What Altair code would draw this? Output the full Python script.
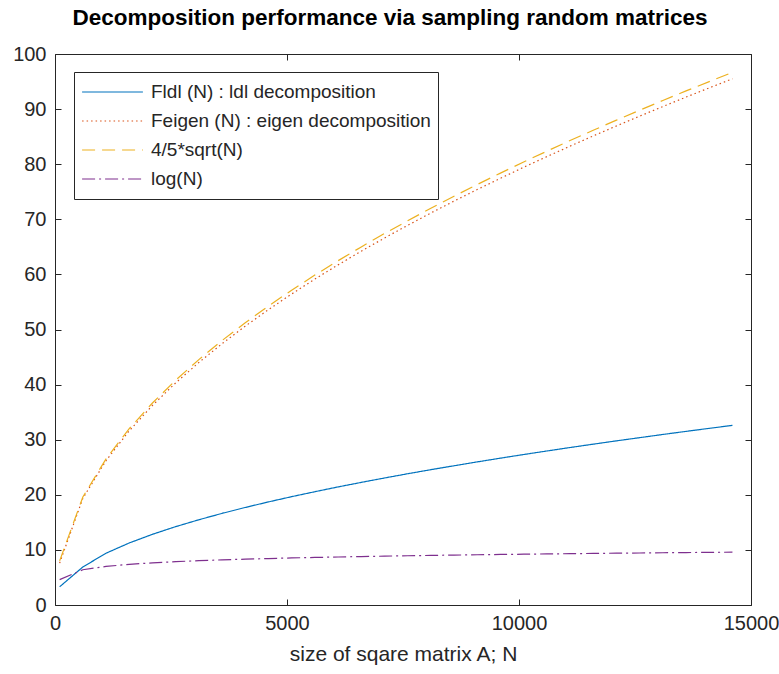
import altair as alt
import pandas as pd

# Matrix sizes N (sampled every 500)
N = [100, 600, 1100, 1600, 2100, 2600, 3100, 3600, 4100, 4600,
     5100, 5600, 6100, 6600, 7100, 7600, 8100, 8600, 9100, 9600,
     10100, 10600, 11100, 11600, 12100, 12600, 13100, 13600, 14100, 14600]

F_ldl = [3.3, 6.9, 9.4, 11.26, 12.83, 14.22, 15.47, 16.63, 17.70, 18.71,
         19.66, 20.56, 21.43, 22.25, 23.05, 23.82, 24.56, 25.27, 25.97, 26.65,
         27.31, 27.95, 28.58, 29.19, 29.79, 30.37, 30.95, 31.51, 32.06, 32.6]

F_eigen = [7.6, 19.36, 26.21, 31.62, 36.22, 40.30, 44.01, 47.42, 50.61, 53.61,
           56.44, 59.15, 61.73, 64.21, 66.60, 68.90, 71.14, 73.30, 75.40, 77.44,
           79.44, 81.37, 83.28, 85.13, 86.94, 88.72, 90.46, 92.18, 93.85, 95.50]

sqrt_curve = [8.0, 19.60, 26.53, 32.0, 36.66, 40.79, 44.54, 48.0, 51.22, 54.26,
              57.13, 59.87, 62.48, 64.99, 67.41, 69.74, 72.0, 74.19, 76.32, 78.38,
              80.40, 82.36, 84.29, 86.16, 88.0, 89.80, 91.56, 93.30, 94.99, 96.66]

log_curve = [4.605, 6.397, 7.003, 7.378, 7.650, 7.863, 8.039, 8.189, 8.319, 8.434,
             8.537, 8.631, 8.716, 8.795, 8.868, 8.936, 9.000, 9.059, 9.116, 9.170,
             9.220, 9.269, 9.315, 9.359, 9.401, 9.441, 9.480, 9.518, 9.554, 9.589]

series_names = ["Fldl (N) : ldl decomposition",
                "Feigen (N) : eigen decomposition",
                "4/5*sqrt(N)",
                "log(N)"]
series_values = [F_ldl, F_eigen, sqrt_curve, log_curve]
series_colors = ["#0072BD", "#D95319", "#EDB120", "#7E2F8E"]
series_dashes = [[1, 0], [1.5, 3], [13, 7], [13, 4, 2, 4]]

x_ticks = [0, 5000, 10000, 15000]
y_ticks = [0, 10, 20, 30, 40, 50, 60, 70, 80, 90, 100]

rows = []
for name, vals in zip(series_names, series_values):
    for n, v in zip(N, vals):
        rows.append({"N": n, "value": v, "series": name})
df = pd.DataFrame(rows)

FONT = "Liberation Sans"
TXT = "#262626"

x_main = alt.X("N:Q",
               scale=alt.Scale(domain=[0, 15000], nice=False),
               axis=alt.Axis(values=x_ticks, title="size of sqare matrix A; N",
                             offset=-6, tickSize=6, domain=False, grid=False,
                             labelPadding=8, labelFontSize=20, labelColor=TXT,
                             tickColor=TXT, titleFontSize=21, titleFontWeight="normal",
                             titleColor=TXT, titlePadding=10, labelFont=FONT, titleFont=FONT,
                             format="d", labelFlush=False))
y_main = alt.Y("value:Q",
               scale=alt.Scale(domain=[0, 100], nice=False),
               axis=alt.Axis(values=y_ticks, title=None,
                             offset=-6, tickSize=6, domain=False, grid=False,
                             labelPadding=9, labelFontSize=20, labelColor=TXT,
                             tickColor=TXT, labelFont=FONT, labelFlush=False))

color = alt.Color("series:N",
                  scale=alt.Scale(domain=series_names, range=series_colors),
                  sort=series_names,
                  legend=alt.Legend(title=None, orient="none", legendX=19, legendY=18,
                                    symbolType="stroke", symbolSize=3700,
                                    symbolStrokeWidth=1.2, labelFontSize=19,
                                    labelFont=FONT, labelColor=TXT,
                                    strokeColor="#262626", fillColor="white",
                                    padding=7, rowPadding=3, labelOffset=7,
                                    clipHeight=26, labelLimit=500))
dash = alt.StrokeDash("series:N",
                      scale=alt.Scale(domain=series_names, range=series_dashes),
                      sort=series_names, legend=None)

lines = alt.Chart(df).mark_line(strokeWidth=1.2).encode(
    x=x_main, y=y_main, color=color, strokeDash=dash, detail="series:N"
)

ticks_other = alt.Chart(df).mark_line(opacity=0).encode(
    x=alt.X("N:Q", scale=alt.Scale(domain=[0, 15000], nice=False),
            axis=alt.Axis(orient="top", values=x_ticks, labels=False,
                          title=None, offset=-6, tickSize=6, domain=False, grid=False,
                          tickColor=TXT)),
    y=alt.Y("value:Q", scale=alt.Scale(domain=[0, 100], nice=False),
            axis=alt.Axis(orient="right", values=y_ticks, labels=False,
                          title=None, offset=-6, tickSize=6, domain=False, grid=False,
                          tickColor=TXT)),
    detail="series:N"
)

chart = alt.layer(lines, ticks_other).resolve_axis(
    x="independent", y="independent"
).properties(
    width=696, height=551,
    autosize=alt.AutoSizeParams(type="none"),
    padding={"left": 55, "top": 54, "right": 28, "bottom": 69},
    title=alt.TitleParams("Decomposition performance via sampling random matrices",
                          fontSize=22.5, fontWeight="bold", font=FONT, color="#000000",
                          anchor="middle", frame="group", dx=-13, offset=15),
    background="white"
).configure_view(
    stroke=TXT, strokeWidth=1
)

chart.save("out.html", embed_options={"renderer": "svg", "actions": False})
